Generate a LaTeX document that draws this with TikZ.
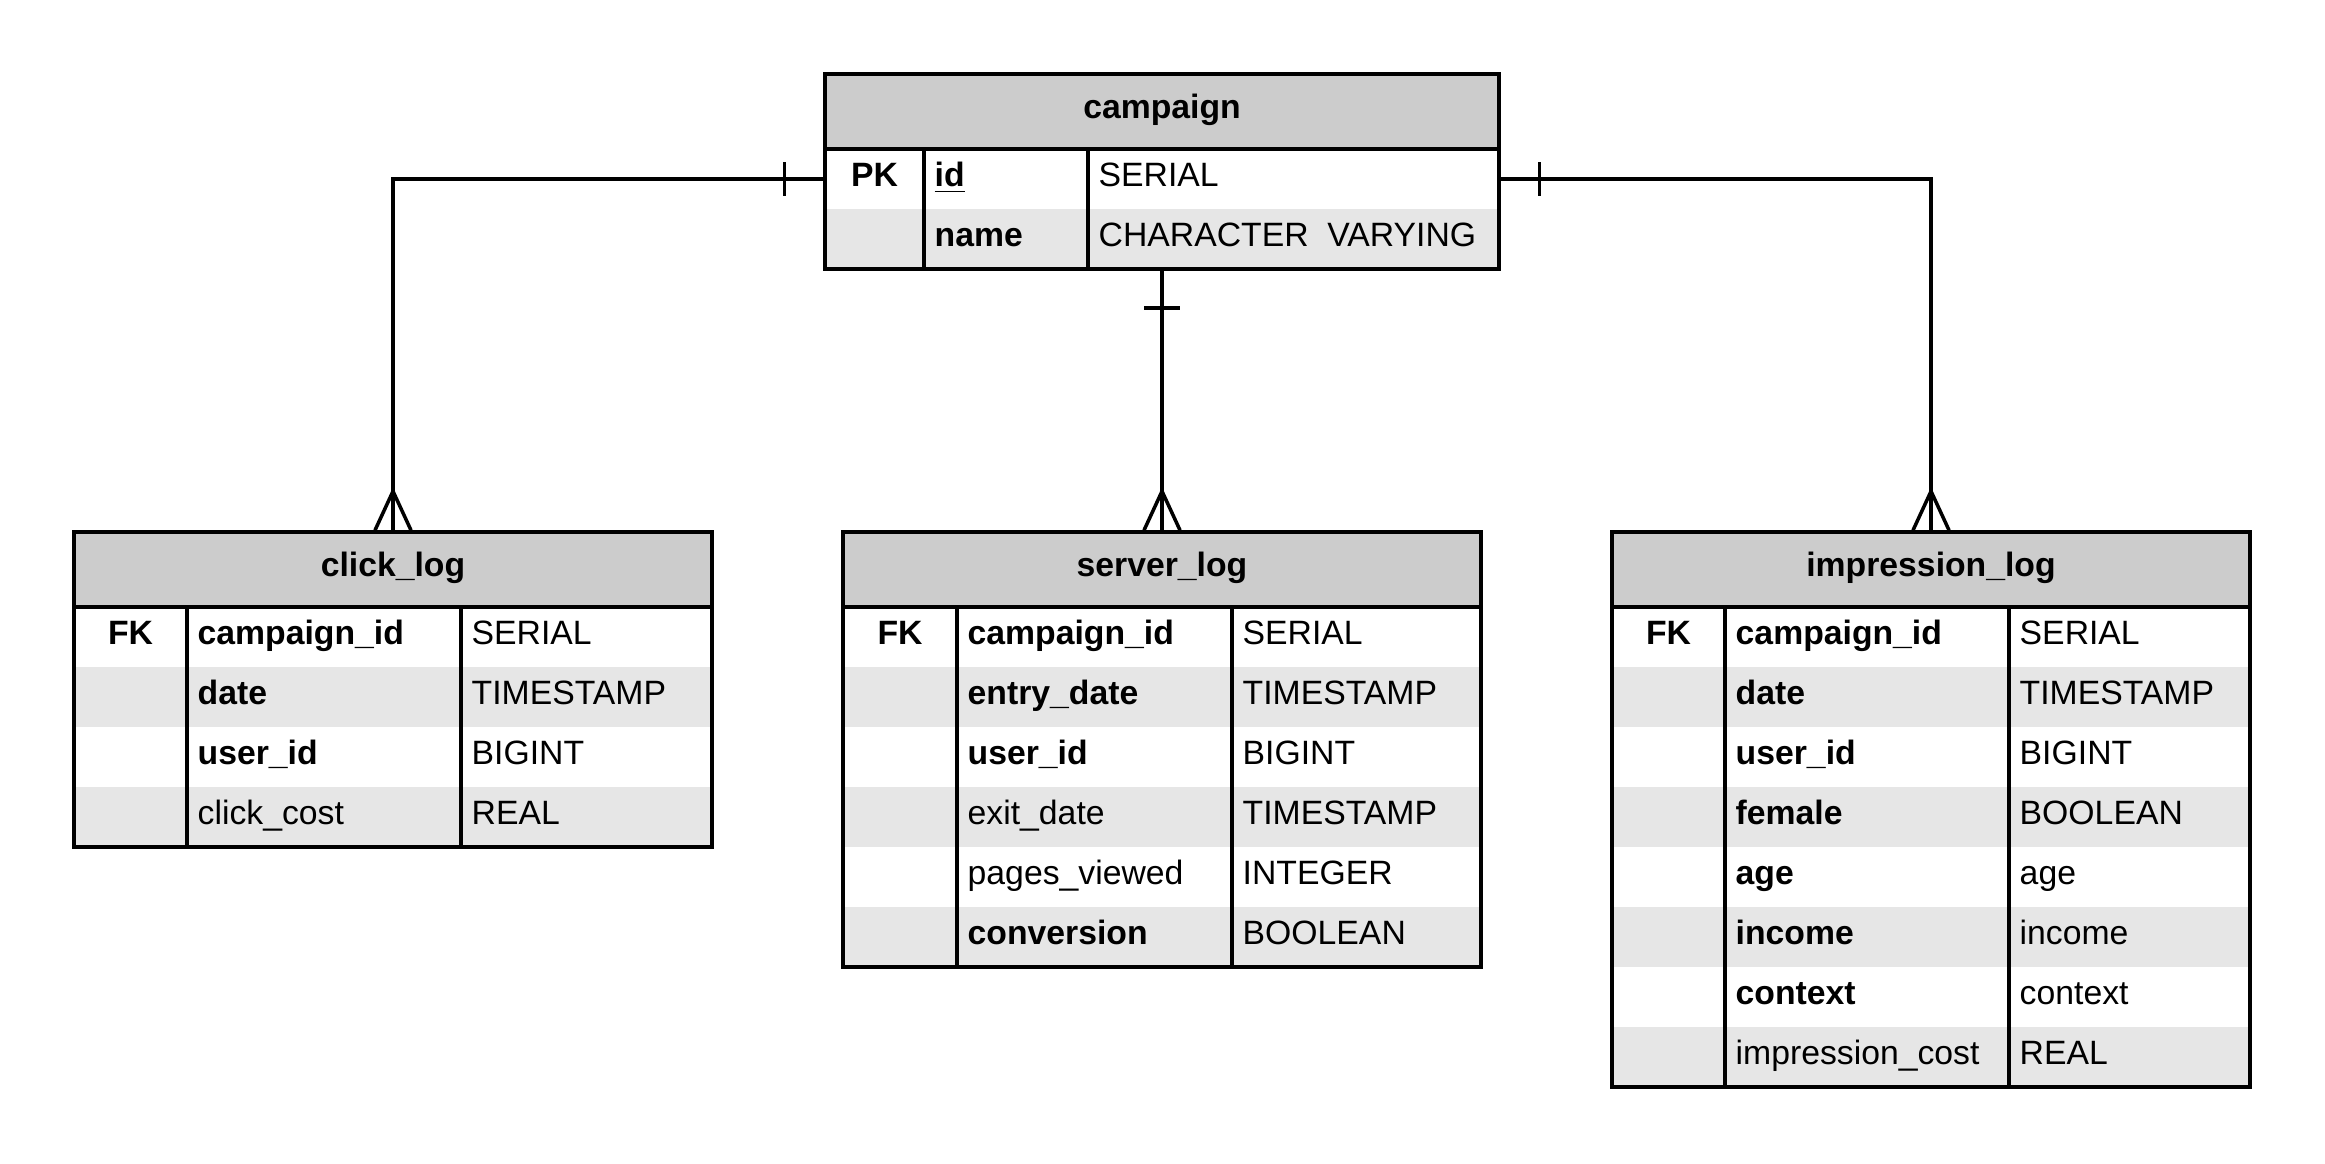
\documentclass[tikz,border=0pt]{standalone}
\usepackage{fontspec}
\setmainfont{Liberation Sans}
\usepackage{xcolor}
\usepackage{tikz}
\usetikzlibrary{calc}
\definecolor{hdrgray}{HTML}{CCCCCC}
\definecolor{rowgray}{HTML}{E6E6E6}
\newcommand{\tblfont}{\fontsize{9.6}{11}\selectfont}

\begin{document}
\begin{tikzpicture}[
    tbl/.style={line width=1pt},
    rel/.style={line width=1pt},
    hdr/.style={draw, line width=1pt, fill=hdrgray, minimum width=6.38cm, minimum height=0.75cm,
        inner sep=0pt, text height=7pt, text depth=2.8pt, font=\tblfont\bfseries},
    rowa/.style={fill=white, minimum width=6.38cm, minimum height=0.6cm, inner sep=0pt},
    rowb/.style={rowa, fill=rowgray},
    txt/.style={text height=7pt, text depth=2.8pt, inner ysep=0pt, inner xsep=0.1cm},
    key/.style={txt, font=\tblfont\bfseries},
    fld/.style={txt, anchor=west, font=\tblfont},
    bfld/.style={txt, anchor=west, font=\tblfont\bfseries}]
    \useasboundingbox (0,0) rectangle (23.25,-11.63);

    % campaign
    \node[rowa, minimum width=6.74cm] (cp1) at (11.62,-1.79) {};
    \node[rowb, minimum width=6.74cm] (cp2) at (11.62,-2.39) {};
    \draw[tbl] (9.24,-1.49) -- (9.24,-2.69) (10.88,-1.49) -- (10.88,-2.69);
    \draw[tbl] (8.25,-0.74) rectangle (14.99,-2.69);
    \node[hdr, minimum width=6.74cm] (campaign) at (11.62,-1.115) {campaign};
    \node[key] (cp1k) at (8.745,-1.79) {PK};
    \node[bfld] (cp1n) at (9.24,-1.79) {\underline{id}};
    \node[fld] (cp1t) at (10.88,-1.79) {SERIAL};
    \node[bfld] (cp2n) at (9.24,-2.39) {name};
    \node[fld] (cp2t) at (10.88,-2.39) {CHARACTER\ \ VARYING};

    % click_log
    \node[rowa] (cl1) at (3.93,-6.37) {};
    \node[rowb] (cl2) at (3.93,-6.97) {};
    \node[rowa] (cl3) at (3.93,-7.57) {};
    \node[rowb] (cl4) at (3.93,-8.17) {};
    \draw[tbl] (1.87,-6.07) -- (1.87,-8.47) (4.61,-6.07) -- (4.61,-8.47);
    \draw[tbl] (0.74,-5.32) rectangle (7.12,-8.47);
    \node[hdr] (click) at (3.93,-5.695) {click\_log};
    \node[key] (cl1k) at (1.305,-6.37) {FK};
    \node[bfld] (cl1n) at (1.87,-6.37) {campaign\_id};
    \node[fld] (cl1t) at (4.61,-6.37) {SERIAL};
    \node[bfld] (cl2n) at (1.87,-6.97) {date};
    \node[fld] (cl2t) at (4.61,-6.97) {TIMESTAMP};
    \node[bfld] (cl3n) at (1.87,-7.57) {user\_id};
    \node[fld] (cl3t) at (4.61,-7.57) {BIGINT};
    \node[fld] (cl4n) at (1.87,-8.17) {click\_cost};
    \node[fld] (cl4t) at (4.61,-8.17) {REAL};

    % server_log
    \node[rowa] (sv1) at (11.62,-6.37) {};
    \node[rowb] (sv2) at (11.62,-6.97) {};
    \node[rowa] (sv3) at (11.62,-7.57) {};
    \node[rowb] (sv4) at (11.62,-8.17) {};
    \node[rowa] (sv5) at (11.62,-8.77) {};
    \node[rowb] (sv6) at (11.62,-9.37) {};
    \draw[tbl] (9.57,-6.07) -- (9.57,-9.67) (12.32,-6.07) -- (12.32,-9.67);
    \draw[tbl] (8.43,-5.32) rectangle (14.81,-9.67);
    \node[hdr] (server) at (11.62,-5.695) {server\_log};
    \node[key] (sv1k) at (9.0,-6.37) {FK};
    \node[bfld] (sv1n) at (9.57,-6.37) {campaign\_id};
    \node[fld] (sv1t) at (12.32,-6.37) {SERIAL};
    \node[bfld] (sv2n) at (9.57,-6.97) {entry\_date};
    \node[fld] (sv2t) at (12.32,-6.97) {TIMESTAMP};
    \node[bfld] (sv3n) at (9.57,-7.57) {user\_id};
    \node[fld] (sv3t) at (12.32,-7.57) {BIGINT};
    \node[fld] (sv4n) at (9.57,-8.17) {exit\_date};
    \node[fld] (sv4t) at (12.32,-8.17) {TIMESTAMP};
    \node[fld] (sv5n) at (9.57,-8.77) {pages\_viewed};
    \node[fld] (sv5t) at (12.32,-8.77) {INTEGER};
    \node[bfld] (sv6n) at (9.57,-9.37) {conversion};
    \node[fld] (sv6t) at (12.32,-9.37) {BOOLEAN};

    % impression_log
    \node[rowa] (im1) at (19.31,-6.37) {};
    \node[rowb] (im2) at (19.31,-6.97) {};
    \node[rowa] (im3) at (19.31,-7.57) {};
    \node[rowb] (im4) at (19.31,-8.17) {};
    \node[rowa] (im5) at (19.31,-8.77) {};
    \node[rowb] (im6) at (19.31,-9.37) {};
    \node[rowa] (im7) at (19.31,-9.97) {};
    \node[rowb] (im8) at (19.31,-10.57) {};
    \draw[tbl] (17.25,-6.07) -- (17.25,-10.87) (20.09,-6.07) -- (20.09,-10.87);
    \draw[tbl] (16.12,-5.32) rectangle (22.50,-10.87);
    \node[hdr] (impression) at (19.31,-5.695) {impression\_log};
    \node[key] (im1k) at (16.685,-6.37) {FK};
    \node[bfld] (im1n) at (17.25,-6.37) {campaign\_id};
    \node[fld] (im1t) at (20.09,-6.37) {SERIAL};
    \node[bfld] (im2n) at (17.25,-6.97) {date};
    \node[fld] (im2t) at (20.09,-6.97) {TIMESTAMP};
    \node[bfld] (im3n) at (17.25,-7.57) {user\_id};
    \node[fld] (im3t) at (20.09,-7.57) {BIGINT};
    \node[bfld] (im4n) at (17.25,-8.17) {female};
    \node[fld] (im4t) at (20.09,-8.17) {BOOLEAN};
    \node[bfld] (im5n) at (17.25,-8.77) {age};
    \node[fld] (im5t) at (20.09,-8.77) {age};
    \node[bfld] (im6n) at (17.25,-9.37) {income};
    \node[fld] (im6t) at (20.09,-9.37) {income};
    \node[bfld] (im7n) at (17.25,-9.97) {context};
    \node[fld] (im7t) at (20.09,-9.97) {context};
    \node[fld] (im8n) at (17.25,-10.57) {impression\_cost};
    \node[fld] (im8t) at (20.09,-10.57) {REAL};

    % campaign to click_log
    \draw[rel] (cp1.west) -| (click.north);
    \draw[rel] ($(cp1.west)+(-0.4,0.17)$) -- ++(0,-0.34);
    \draw[rel] ($(click.north)+(-0.18,0)$) -- ++(0.18,0.39) -- ++(0.18,-0.39);

    % campaign to server_log
    \draw[rel] (cp2.south) -- (server.north);
    \draw[rel] ($(cp2.south)+(-0.18,-0.385)$) -- ++(0.36,0);
    \draw[rel] ($(server.north)+(-0.18,0)$) -- ++(0.18,0.39) -- ++(0.18,-0.39);

    % campaign to impression_log
    \draw[rel] (cp1.east) -| (impression.north);
    \draw[rel] ($(cp1.east)+(0.4,0.17)$) -- ++(0,-0.34);
    \draw[rel] ($(impression.north)+(-0.18,0)$) -- ++(0.18,0.39) -- ++(0.18,-0.39);
\end{tikzpicture}
\end{document}
